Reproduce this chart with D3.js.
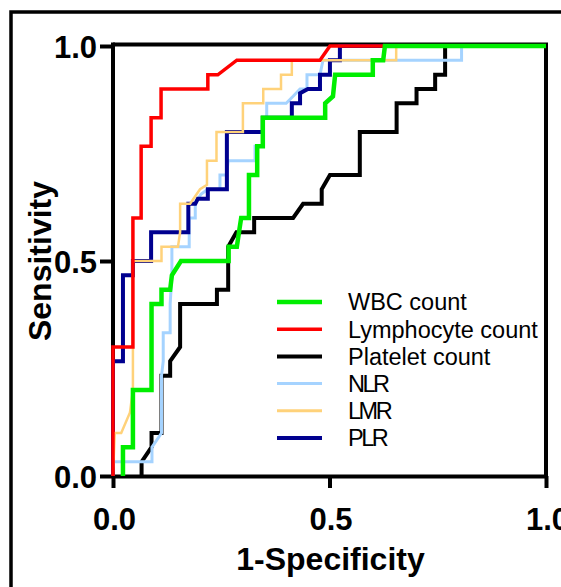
<!DOCTYPE html>
<html>
<head>
<meta charset="utf-8">
<script src="https://cdn.jsdelivr.net/npm/d3@7"></script>
<style>
  html, body { margin: 0; padding: 0; background: #fff; }
  svg { display: block; }
</style>
</head>
<body>
<script>
// ---------------- DATA ----------------
const seriesNames = ["WBC count", "Lymphocyte count", "Platelet count", "NLR", "LMR", "PLR"];
const tickValues = [0, 0.5, 1.0];
const xTitle = "1-Specificity";
const yTitle = "Sensitivity";

// WBC count
const wbcFpr  = [0.023,0.023,0.046,0.046,0.089,0.089,0.112,0.112,0.132,0.136,0.157,0.267,0.267,0.286,0.291,0.296,0.314,0.314,0.333,0.333,0.346,0.346,0.490,0.490,0.508,0.513,0.600,0.600,0.624,0.628,1.0];
const wbcSens = [0,0.067,0.067,0.2,0.2,0.4,0.4,0.433,0.433,0.467,0.5,0.5,0.533,0.533,0.567,0.6,0.6,0.7,0.7,0.767,0.767,0.833,0.833,0.867,0.883,0.933,0.933,0.967,0.967,1.0,1.0];

// Lymphocyte count
const lymFpr  = [0,0,0.046,0.046,0.065,0.065,0.088,0.088,0.111,0.111,0.219,0.219,0.242,0.286,0.478,0.501,1.0];
const lymSens = [0,0.3,0.3,0.6,0.6,0.767,0.767,0.833,0.833,0.9,0.9,0.933,0.933,0.967,0.967,1.0,1.0];

// Platelet count
const pltFpr  = [0.066,0.066,0.089,0.089,0.112,0.112,0.132,0.132,0.155,0.155,0.240,0.240,0.266,0.266,0.285,0.326,0.326,0.416,0.439,0.482,0.482,0.501,0.570,0.570,0.655,0.655,0.701,0.701,0.744,0.744,0.767,0.767,1.0];
const pltSens = [0,0.033,0.067,0.1,0.1,0.233,0.233,0.267,0.3,0.4,0.4,0.433,0.433,0.533,0.567,0.567,0.6,0.6,0.633,0.633,0.667,0.7,0.7,0.8,0.8,0.867,0.867,0.9,0.9,0.933,0.933,1.0,1.0];

// NLR
const nlrFpr  = [0,0,0.09,0.09,0.112,0.112,0.116,0.116,0.132,0.132,0.136,0.136,0.176,0.176,0.19,0.19,0.203,0.219,0.247,0.247,0.262,0.266,0.328,0.328,0.346,0.346,0.355,0.355,0.40,0.416,0.432,0.448,0.448,0.478,0.485,0.805,0.805,1.0];
const nlrSens = [0,0.033,0.033,0.067,0.1,0.233,0.267,0.333,0.333,0.4,0.467,0.533,0.533,0.6,0.6,0.633,0.655,0.667,0.667,0.7,0.7,0.733,0.733,0.767,0.767,0.833,0.833,0.867,0.867,0.883,0.9,0.9,0.933,0.933,0.967,0.967,1.0,1.0];

// LMR
const lmrFpr  = [0,0.004,0.019,0.039,0.046,0.046,0.112,0.112,0.150,0.155,0.155,0.178,0.201,0.217,0.217,0.239,0.239,0.30,0.30,0.347,0.347,0.388,0.388,0.413,0.413,0.654,0.654,1.0];
const lmrSens = [0,0.1,0.1,0.147,0.2,0.5,0.5,0.533,0.533,0.567,0.633,0.633,0.667,0.677,0.733,0.733,0.8,0.8,0.867,0.867,0.9,0.9,0.933,0.933,0.967,0.967,1.0,1.0];

// PLR
const plrFpr  = [0,0,0.023,0.023,0.046,0.046,0.088,0.088,0.174,0.174,0.19,0.196,0.219,0.219,0.263,0.263,0.346,0.346,0.413,0.413,0.432,0.432,0.45,0.478,0.478,0.501,0.501,0.524,0.524,1.0];
const plrSens = [0,0.267,0.267,0.467,0.467,0.5,0.5,0.567,0.567,0.633,0.633,0.645,0.645,0.667,0.667,0.8,0.8,0.833,0.833,0.867,0.867,0.89,0.9,0.9,0.933,0.933,0.967,0.967,1.0,1.0];

// ---------------- STYLE ----------------
const colors = {
  "WBC count": "#00ee00",
  "Lymphocyte count": "#ff0000",
  "Platelet count": "#000000",
  "NLR": "#a5d3ff",
  "LMR": "#ffd27a",
  "PLR": "#00008f"
};
const widths = {
  "WBC count": 4.5, "Lymphocyte count": 3.5, "Platelet count": 4,
  "NLR": 3, "LMR": 2.5, "PLR": 4
};

const seriesData = {
  "WBC count": [wbcFpr, wbcSens],
  "Lymphocyte count": [lymFpr, lymSens],
  "Platelet count": [pltFpr, pltSens],
  "NLR": [nlrFpr, nlrSens],
  "LMR": [lmrFpr, lmrSens],
  "PLR": [plrFpr, plrSens]
};
const drawOrder = ["Platelet count", "NLR", "PLR", "LMR", "Lymphocyte count", "WBC count"];

const W = 561, H = 587;
const svg = d3.select("body").append("svg").attr("width", W).attr("height", H);

// outer border of the figure
svg.append("rect")
  .attr("x", 11).attr("y", 12).attr("width", 640).attr("height", 640)
  .attr("fill", "none").attr("stroke", "#000").attr("stroke-width", 3.5);

const x = d3.scaleLinear().domain([0, 1]).range([113, 546]);
const y = d3.scaleLinear().domain([0, 1]).range([476, 46]);

const FONT = "'Liberation Sans', Arial, Helvetica, sans-serif";

// frame (top and right)
svg.append("path")
  .attr("d", `M${x(0)},${y(1) - 1.5}H${x(1)}V${y(0)}`)
  .attr("fill", "none").attr("stroke", "#000").attr("stroke-width", 4);

// axes
const xAxis = d3.axisBottom(x).tickValues(tickValues).tickSize(12).tickSizeOuter(0)
  .tickFormat(d3.format(".1f"));
const yAxis = d3.axisLeft(y).tickValues(tickValues).tickSize(13).tickSizeOuter(0)
  .tickFormat(d3.format(".1f"));

const gx = svg.append("g").attr("transform", `translate(0,${y(0)})`).call(xAxis);
const gy = svg.append("g").attr("transform", `translate(${x(0)},0)`).call(yAxis);

[gx, gy].forEach(g => {
  g.select(".domain").attr("stroke", "#000").attr("stroke-width", 4);
  g.selectAll(".tick line").attr("stroke", "#000").attr("stroke-width", 4);
  g.selectAll(".tick text")
    .attr("fill", "#000")
    .style("font-family", FONT).style("font-weight", "bold").style("font-size", "31px");
});
gy.select(".domain").attr("d", `M0,${y(1) - 3.5}V${y(0)}`);
gx.selectAll(".tick text").attr("y", 0).attr("dy", 0).attr("transform", "translate(1,54)");
gy.selectAll(".tick text").attr("x", -16).attr("dy", "0.36em");

// axis titles
svg.append("text")
  .attr("x", x(0.5) + 1).attr("y", 570)
  .attr("text-anchor", "middle")
  .style("font-family", FONT).style("font-weight", "bold").style("font-size", "32px")
  .text(xTitle);
svg.append("text")
  .attr("transform", `translate(51,${(y(0) + y(1)) / 2}) rotate(-90)`)
  .attr("text-anchor", "middle")
  .style("font-family", FONT).style("font-weight", "bold").style("font-size", "32px")
  .text(yTitle);

// curves
const line = d3.line().x(d => x(d[0])).y(d => y(d[1]));
drawOrder.forEach(name => {
  const [f, s] = seriesData[name];
  const pts = f.map((v, i) => [v, s[i]]);
  svg.append("path")
    .datum(pts)
    .attr("d", line)
    .attr("fill", "none")
    .attr("stroke", colors[name])
    .attr("stroke-width", widths[name])
    .attr("stroke-linejoin", "miter")
    .attr("stroke-linecap", "butt");
});

// legend
const leg = svg.append("g");
seriesNames.forEach((name, i) => {
  const yy = 302 + i * 27.2;
  leg.append("line")
    .attr("x1", 277).attr("x2", 322).attr("y1", yy).attr("y2", yy)
    .attr("stroke", colors[name]).attr("stroke-width", Math.max(3, widths[name]));
  leg.append("text")
    .attr("x", 348).attr("y", yy).attr("dy", "0.36em")
    .style("font-family", FONT).style("font-size", "23.5px")
    .style("letter-spacing", name.length <= 3 ? "-2.5px" : "0px")
    .attr("fill", "#000")
    .text(name);
});
</script>
</body>
</html>
